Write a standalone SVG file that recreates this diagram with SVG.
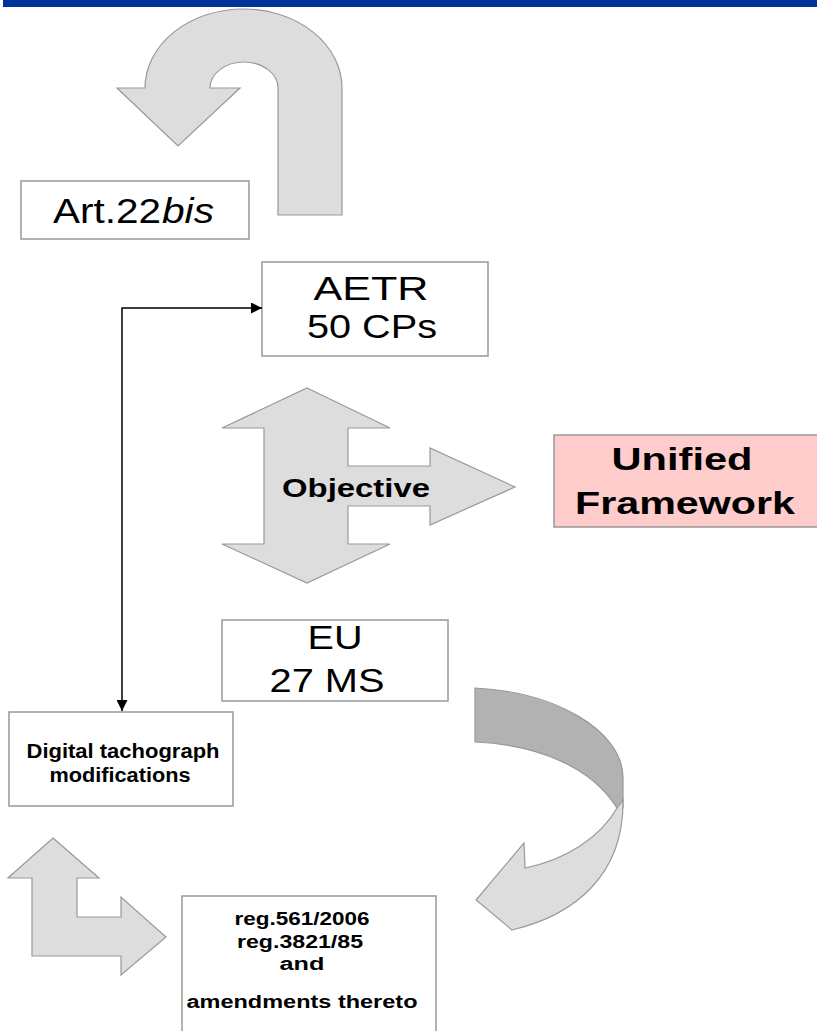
<svg xmlns="http://www.w3.org/2000/svg" width="817" height="1031" viewBox="0 0 817 1031">
<style>
.shape{fill:#dddddd;stroke:#999999;stroke-width:1.2}
.dark{fill:#b2b2b2;stroke:#999999;stroke-width:1.2}
.box{fill:#ffffff;stroke:#999999;stroke-width:1.5}
.t{font-family:"Liberation Sans",Arial,sans-serif;fill:#000}
.b{font-weight:bold}
.conn{fill:none;stroke:#000;stroke-width:1.5}
</style>
<defs>
<marker id="ah" viewBox="0 0 10 10" refX="10" refY="5" markerWidth="11" markerHeight="11" markerUnits="userSpaceOnUse" orient="auto-start-reverse">
<path d="M0,0 L10,5 L0,10 z" fill="#000"/>
</marker>
</defs>
<rect x="3" y="0" width="814" height="7" fill="#003399"/>

<g id="uturn">
<path class="shape" d="M342,215 L342,88 A98.5,79 0 0 0 145,88 L117,88 L178,146 L240,88 L210,88 A34,26 0 0 1 278,88 L278,215 Z"/>
</g>

<g id="art22bis">
<rect class="box" x="21" y="181" width="228" height="58"/>
<text class="t" x="53" y="223" font-size="35" textLength="108" lengthAdjust="spacingAndGlyphs">Art.22</text>
<text class="t" x="162" y="223" font-size="35" font-style="italic" textLength="52" lengthAdjust="spacingAndGlyphs">bis</text>
</g>

<g id="aetr">
<rect class="box" x="262" y="262" width="226" height="94"/>
<text class="t" x="371" y="300" font-size="34" text-anchor="middle" textLength="115" lengthAdjust="spacingAndGlyphs">AETR</text>
<text class="t" x="372" y="338" font-size="34" text-anchor="middle" textLength="130" lengthAdjust="spacingAndGlyphs">50 CPs</text>
</g>

<g id="objective">
<path class="shape" d="M307,388 L390,428 L348,428 L348,466 L430,466 L430,448 L515,487 L430,525 L430,506 L348,506 L348,544 L390,544 L307,583 L222,544 L264,544 L264,428 L222,428 Z"/>
<text class="t b" x="356" y="497" font-size="25" text-anchor="middle" textLength="148" lengthAdjust="spacingAndGlyphs">Objective</text>
</g>

<g id="unified">
<rect x="554" y="435" width="264" height="92" fill="#ffcccc" stroke="#999999" stroke-width="1.5"/>
<text class="t b" x="682" y="470" font-size="32" text-anchor="middle" textLength="141" lengthAdjust="spacingAndGlyphs">Unified</text>
<text class="t b" x="685" y="514" font-size="32" text-anchor="middle" textLength="220" lengthAdjust="spacingAndGlyphs">Framework</text>
</g>

<g id="eu">
<rect class="box" x="222" y="620" width="226" height="81"/>
<text class="t" x="335" y="649" font-size="34" text-anchor="middle" textLength="55" lengthAdjust="spacingAndGlyphs">EU</text>
<text class="t" x="327" y="692" font-size="34" text-anchor="middle" textLength="115" lengthAdjust="spacingAndGlyphs">27 MS</text>
</g>

<g id="curved-arrow">
<path class="dark" d="M475,688 C555,692 622,730 623,777 L623,808 L617,808 C592,768 540,745 475,742 Z"/>
<path class="shape" d="M617,808 C600,838 565,860 525,868 L524,843 L476,900 L512,930 C575,915 624,875 623,800 Z"/>
</g>

<g id="digital">
<rect class="box" x="9" y="712" width="224" height="94"/>
<text class="t b" x="123" y="758" font-size="19.5" text-anchor="middle" textLength="193" lengthAdjust="spacingAndGlyphs">Digital tachograph</text>
<text class="t b" x="120" y="782" font-size="19.5" text-anchor="middle" textLength="141" lengthAdjust="spacingAndGlyphs">modifications</text>
</g>

<g id="l-arrow">
<path class="shape" d="M53,838 L99,878 L77,878 L77,917 L121,917 L121,897 L166,937 L121,975 L121,956 L32,956 L32,878 L8,878 Z"/>
</g>

<g id="regs">
<rect class="box" x="182" y="896" width="254" height="145"/>
<text class="t b" x="302" y="925" font-size="18" text-anchor="middle" textLength="135" lengthAdjust="spacingAndGlyphs">reg.561/2006</text>
<text class="t b" x="300" y="948" font-size="18" text-anchor="middle" textLength="126" lengthAdjust="spacingAndGlyphs">reg.3821/85</text>
<text class="t b" x="302" y="970" font-size="18" text-anchor="middle" textLength="45" lengthAdjust="spacingAndGlyphs">and</text>
<text class="t b" x="302" y="1008" font-size="18" text-anchor="middle" textLength="231" lengthAdjust="spacingAndGlyphs">amendments thereto</text>
</g>

<g id="connectors">
<path class="conn" d="M122,711 V308 H262" marker-start="url(#ah)" marker-end="url(#ah)"/>
</g>
</svg>
